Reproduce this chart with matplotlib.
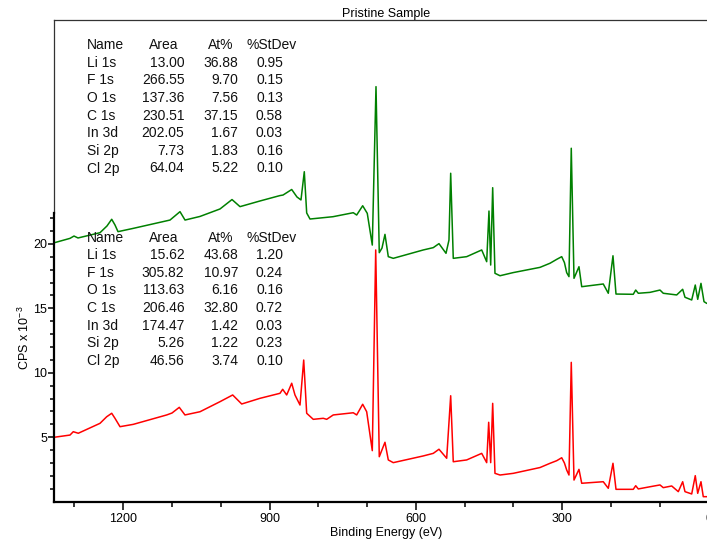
import matplotlib
matplotlib.use("Agg")
import matplotlib.pyplot as plt
from matplotlib.lines import Line2D
from matplotlib.ticker import FixedLocator

plt.rcParams['font.family'] = ['Liberation Sans', 'DejaVu Sans']
plt.rcParams['mathtext.fontset'] = 'custom'
plt.rcParams['mathtext.rm'] = 'Liberation Sans'
plt.rcParams['mathtext.it'] = 'Liberation Sans:italic'
plt.rcParams['mathtext.bf'] = 'Liberation Sans:bold'

title = "Pristine Sample"
x_label = "Binding Energy (eV)"
y_label = "CPS x 10$^{-3}$"

# Survey spectrum, upper trace (binding energy in eV, counts/s x 1e-3)
green_be = [1345, 1309.1, 1300.9, 1292.7, 1247.6, 1233.3, 1223.6, 1216.9, 1210.7,
            1180.0, 1104.1, 1083.6, 1073.3, 1042.6, 1001.6, 977.0, 960.6, 919.6,
            878.6, 872.4, 854.6, 843.8, 835.6, 828.8, 823.9, 817.1, 770.0, 728.4,
            721.4, 709.1, 699.7, 689.4, 681.8, 675.1, 669.5, 663.4, 656.6, 646.4,
            584.9, 564.4, 552.7, 538.3, 532.2, 528.7, 523.4, 495.9, 465.1, 454.9,
            450.2, 446.7, 442.6, 437.9, 427.6, 401.0, 345.6, 325.0, 311.4, 301.1,
            295.5, 290.9, 286.2,
            281.5, 275.9, 265.7, 260.1, 215.9, 205.6, 196.0, 189.8, 154.4, 149.4,
            144.1, 120.1, 99.6, 92.9, 65.4, 53.1, 48.4, 34.6, 27.3, 22.3, 15.6,
            9.4, 3.9, -5.0]
green_cps = [20.05, 20.43, 20.61, 20.46, 20.87, 21.39, 21.91, 21.47, 20.95,
             21.20, 21.85, 22.50, 21.85, 22.13, 22.71, 23.44, 22.89, 23.33,
             23.75, 23.79, 24.22, 23.64, 23.41, 25.60, 22.40, 21.93, 22.11, 22.42,
             22.24, 22.96, 22.37, 19.91, 32.20, 19.32, 19.68, 20.74, 19.01, 18.88,
             19.53, 19.71, 20.02, 19.27, 20.30, 25.48, 18.88, 19.01, 19.53, 18.62,
             22.55, 18.36, 24.36, 17.72, 17.53, 17.77, 18.18, 18.50, 18.80, 19.01,
             18.55, 17.77, 17.46,
             27.42, 17.33, 18.23, 16.68, 16.89, 16.17, 19.08, 16.11, 16.09, 16.42,
             16.17, 16.24, 16.42, 16.17, 16.04, 16.48, 15.86, 15.65, 16.81, 15.70,
             16.94, 15.52, 15.39, 15.35]

# Survey spectrum, lower trace
red_be = [1345, 1309.1, 1302.4, 1292.1, 1247.6, 1233.9, 1223.6, 1216.9, 1206.6,
          1179.4, 1110.9, 1100.0, 1085.1, 1073.4, 1042.6, 1001.6, 975.6, 957.1,
          919.6, 878.6, 873.1, 864.9, 854.6, 847.9, 837.6, 830.0, 823.9, 810.4,
          789.9, 782.9, 769.4, 728.4, 721.4, 709.1, 700.9, 689.4, 682.4, 675.1,
          663.4, 656.6, 646.4, 584.9, 564.4, 552.7, 536.9, 528.7, 523.4, 495.9,
          465.1, 454.9, 450.8, 446.7, 442.6, 437.9, 427.6, 400.4, 345.6, 325.0,
          311.4, 301.1, 295.5,
          290.9, 286.2, 281.5, 275.9, 265.7, 260.1, 215.9, 205.6, 196.0, 189.8,
          154.4, 149.4, 144.1, 120.1, 99.6, 92.9, 75.6, 62.1, 53.1, 48.4, 34.6,
          27.3, 22.3, 15.6, 10.9, 3.9, -5.0]
red_cps = [4.98, 5.17, 5.43, 5.31, 6.08, 6.59, 6.86, 6.47, 5.82,
           6.00, 6.73, 6.88, 7.32, 6.73, 6.98, 7.76, 8.28, 7.58,
           8.02, 8.41, 8.72, 8.28, 9.19, 8.28, 7.50, 10.99, 6.86, 6.39,
           6.47, 6.39, 6.73, 6.90, 6.73, 7.56, 6.98, 3.96, 19.53, 3.49,
           4.61, 3.24, 3.03, 3.55, 3.75, 4.07, 3.37, 8.22, 3.10, 3.24,
           3.75, 3.03, 6.16, 3.03, 7.63, 2.20, 2.07, 2.20, 2.65, 2.98,
           3.18, 3.41, 3.00,
           2.46, 2.07, 10.81, 1.68, 2.51, 1.43, 1.55, 1.04, 2.98, 0.96,
           0.96, 1.24, 0.99, 1.16, 1.30, 1.09, 1.22, 0.78, 1.55, 0.78, 0.60,
           2.02, 0.65, 1.55, 0.39, 0.39, 0.35]

x_major = [1200, 900, 600, 300, 0]
x_minor = [1300, 1100, 1000, 800, 700, 500, 400, 200, 100]
y_major = [5, 10, 15, 20]
y_minor = [1, 2, 3, 4, 6, 7, 8, 9, 11, 12, 13, 14, 16, 17, 18, 19, 21, 22]

# Quantification tables
table_header = ["Name", "Area", "At%", "%StDev"]
peak_names = ["Li 1s", "F 1s", "O 1s", "C 1s", "In 3d", "Si 2p", "Cl 2p"]
green_area = [13.00, 266.55, 137.36, 230.51, 202.05, 7.73, 64.04]
green_at = [36.88, 9.70, 7.56, 37.15, 1.67, 1.83, 5.22]
green_sd = [0.95, 0.15, 0.13, 0.58, 0.03, 0.16, 0.10]
red_area = [15.62, 305.82, 113.63, 206.46, 174.47, 5.26, 46.56]
red_at = [43.68, 10.97, 6.16, 32.80, 1.42, 1.22, 3.74]
red_sd = [1.20, 0.24, 0.16, 0.72, 0.03, 0.23, 0.10]

W, H = 707, 544
fig = plt.figure(figsize=(W / 100, H / 100), dpi=100)

# axes box in pixels: left 54, right 720 (runs past the canvas), top 20, bottom 501.7
ax_l, ax_r, ax_t, ax_b = 54, 720, 20, 501.7
ax = fig.add_axes([ax_l / W, 1 - ax_b / H, (ax_r - ax_l) / W, (ax_b - ax_t) / H])

ax.plot(green_be, green_cps, color="#008000", lw=1.1)
ax.plot(red_be, red_cps, color="#ff0000", lw=1.1)

ax.set_xlim(1341.9, -23.4)
y_top = 37.37
ax.set_ylim(0, y_top)

ax.xaxis.set_major_locator(FixedLocator(x_major))
ax.xaxis.set_minor_locator(FixedLocator(x_minor))
ax.yaxis.set_major_locator(FixedLocator(y_major))
ax.yaxis.set_minor_locator(FixedLocator(y_minor))

ax.tick_params(axis="x", which="major", direction="out", length=5.8, width=1.1,
               labelsize=9, pad=2.5, color="black")
ax.tick_params(axis="x", which="minor", direction="out", length=3.6, width=1.1,
               color="black")
ax.tick_params(axis="y", which="major", direction="out", length=4.0, width=1.1,
               labelsize=9, pad=1, color="black")
ax.tick_params(axis="y", which="minor", direction="out", length=2.6, width=1.1,
               color="black")

axis_end = 22.4
ax.spines["right"].set_visible(False)
ax.spines["bottom"].set_linewidth(1.6)
ax.spines["left"].set_linewidth(1.6)
ax.spines["left"].set_bounds(0, axis_end)
ax.spines["top"].set_linewidth(0.9)
ax.spines["top"].set_color("#333333")
ax.add_line(Line2D([0, 0], [axis_end / y_top, 1], transform=ax.transAxes,
                   lw=0.9, color="#333333", clip_on=False))

ax.set_title(title, fontsize=9, pad=1.8)
ax.title.set_position((0.4985, 1.0))
ax.set_xlabel(x_label, fontsize=9)
ax.xaxis.set_label_coords(0.4985, -0.0525)
ax.set_ylabel(y_label, fontsize=9)
ax.yaxis.set_label_coords(-0.033, 0.341)


def put(x, y, s, ha):
    fig.text(x / W, 1 - y / H, s, ha=ha, va="baseline", fontsize=10, color="#111111")


def draw_table(y0, areas, ats, sds):
    step = 17.6
    put(87.3, y0 + 5, table_header[0], "left")
    put(178.5, y0 + 5, table_header[1], "right")
    put(233.5, y0 + 5, table_header[2], "right")
    put(246.7, y0 + 5, table_header[3], "left")
    for i, name in enumerate(peak_names):
        yb = y0 + step * (i + 1) + 5
        put(87.3, yb, name, "left")
        put(184.5, yb, f"{areas[i]:.2f}", "right")
        put(238.3, yb, f"{ats[i]:.2f}", "right")
        put(283.0, yb, f"{sds[i]:.2f}", "right")


draw_table(44.3, green_area, green_at, green_sd)
draw_table(236.7, red_area, red_at, red_sd)

fig.savefig("out.png", dpi=100)
